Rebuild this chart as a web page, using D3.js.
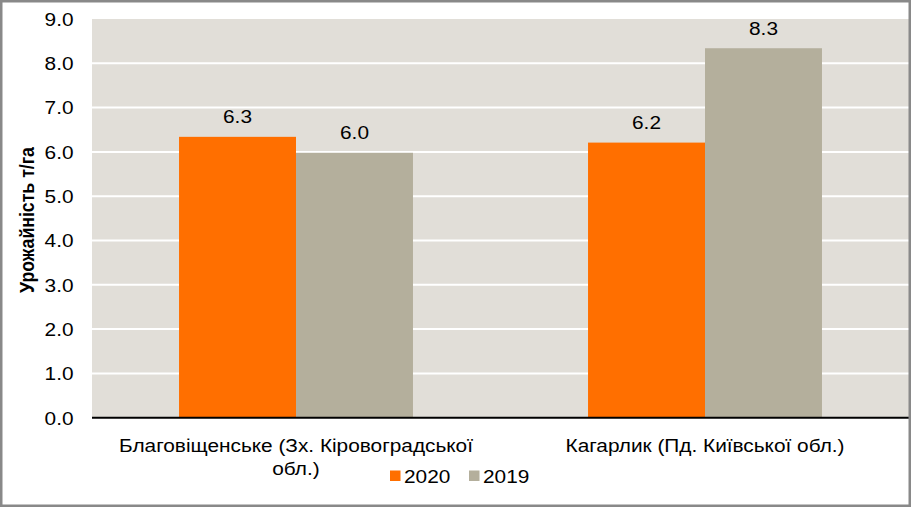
<!DOCTYPE html>
<meta charset="utf-8">
<title>Урожайність</title>
<style>
  body {
    margin: 0;
    background: #fff;
  }

  svg text {
    font-family: "Liberation Sans", Arial, sans-serif;
    fill: #000;
  }
</style>
<svg width="911" height="507"></svg>
<script src="https://cdn.jsdelivr.net/npm/d3@7"></script>
<script>
  // data
  var categories = ["Благовіщенське (Зх. Кіровоградської обл.)", "Кагарлик (Пд. Київської обл.)"];
  var categoryLines = [
    ["Благовіщенське (Зх. Кіровоградської", "обл.)"],
    ["Кагарлик (Пд. Київської обл.)"]
  ];
  var seriesNames = ["2020", "2019"];
  var values2020 = [6.34, 6.21];
  var values2019 = [5.98, 8.34];
  var valueLabels2020 = ["6.3", "6.2"];
  var valueLabels2019 = ["6.0", "8.3"];
  var yTicks = [0, 1, 2, 3, 4, 5, 6, 7, 8, 9];
  var yTitle = "Урожайність т/га";

  var colors = {
    "2020": "#ff6f00",
    "2019": "#b4af9c"
  };

  var svg = d3.select("svg"),
    width = +svg.attr("width"),
    height = +svg.attr("height");

  // the picture is a bit wider than tall fonts, so stretch text sideways
  var sx = 1.19,
    fontSize = 17.5;

  var plot = {
    left: 92,
    right: 909,
    top: 19,
    bottom: 417.7
  };

  var rows = categories.map(function(c, i) {
    return {
      category: c,
      lines: categoryLines[i],
      bars: [{
          key: seriesNames[0],
          value: values2020[i],
          label: valueLabels2020[i]
        },
        {
          key: seriesNames[1],
          value: values2019[i],
          label: valueLabels2019[i]
        }
      ]
    };
  });

  var x0 = d3.scaleBand()
    .domain(categories)
    .range([plot.left - 0.5, plot.right + 0.5])
    .paddingInner(0.428)
    .paddingOuter(0.214);

  var x1 = d3.scaleBand()
    .domain(seriesNames)
    .range([0, x0.bandwidth()]);

  var y = d3.scaleLinear()
    .domain([0, 9])
    .range([plot.bottom, plot.top]);

  // plot background
  svg.append("rect")
    .attr("x", plot.left)
    .attr("y", plot.top)
    .attr("width", plot.right - plot.left)
    .attr("height", plot.bottom - plot.top)
    .attr("fill", "#e1ded8");

  // grid
  svg.append("g")
    .selectAll("line")
    .data(yTicks.slice(1, -1))
    .enter().append("line")
    .attr("x1", plot.left)
    .attr("x2", plot.right)
    .attr("y1", function(d) { return y(d); })
    .attr("y2", function(d) { return y(d); })
    .attr("stroke", "#fff")
    .attr("stroke-width", 2);

  // y axis labels
  var yAxis = svg.append("g")
    .attr("transform", "translate(" + plot.left + ",0)")
    .call(d3.axisLeft(y)
      .tickValues(yTicks)
      .tickFormat(d3.format(".1f"))
      .tickSize(0)
      .tickPadding(16));

  yAxis.select(".domain").remove();
  yAxis.selectAll("text")
    .attr("font-size", fontSize)
    .attr("font-family", null)
    .attr("x", -18.5 / sx)
    .attr("dy", "0.36em")
    .attr("transform", "scale(" + sx + ",1)");

  // bars
  var group = svg.append("g")
    .selectAll("g")
    .data(rows)
    .enter().append("g")
    .attr("transform", function(d) {
      return "translate(" + x0(d.category) + ",0)";
    });

  group.selectAll("rect")
    .data(function(d) { return d.bars; })
    .enter().append("rect")
    .attr("x", function(d) { return x1(d.key); })
    .attr("y", function(d) { return y(d.value); })
    .attr("width", x1.bandwidth())
    .attr("height", function(d) { return y(0) - y(d.value); })
    .attr("fill", function(d) { return colors[d.key]; });

  group.selectAll("text")
    .data(function(d) { return d.bars; })
    .enter().append("text")
    .attr("text-anchor", "middle")
    .attr("font-size", fontSize)
    .attr("transform", function(d) {
      return "translate(" + (x1(d.key) + x1.bandwidth() / 2) + "," + (y(d.value) - 13.5) + ") scale(" + sx + ",1)";
    })
    .text(function(d) { return d.label; });

  // baseline
  svg.append("line")
    .attr("x1", plot.left)
    .attr("x2", plot.right)
    .attr("y1", y(0))
    .attr("y2", y(0))
    .attr("stroke", "#000")
    .attr("stroke-width", 2);

  // category labels
  svg.append("g")
    .selectAll("text")
    .data(rows)
    .enter().append("text")
    .attr("text-anchor", "middle")
    .attr("font-size", fontSize)
    .attr("transform", function(d) {
      return "translate(" + (x0(d.category) + x0.bandwidth() / 2) + ",452) scale(" + sx + ",1)";
    })
    .selectAll("tspan")
    .data(function(d) { return d.lines; })
    .enter().append("tspan")
    .attr("x", 0)
    .attr("dy", function(d, i) { return i ? 23 : 0; })
    .text(function(d) { return d; });

  // y title
  svg.append("text")
    .attr("text-anchor", "middle")
    .attr("font-size", 17.7)
    .attr("font-weight", "bold")
    .attr("transform", "translate(33.5,220) rotate(-90) scale(1," + sx + ")")
    .text(yTitle);

  // legend
  var legend = svg.append("g")
    .selectAll("g")
    .data(seriesNames)
    .enter().append("g")
    .attr("transform", function(d, i) {
      return "translate(" + (390 + i * 79) + ",0)";
    });

  legend.append("rect")
    .attr("y", 470.5)
    .attr("width", 10.5)
    .attr("height", 10.5)
    .attr("fill", function(d) { return colors[d]; });

  legend.append("text")
    .attr("font-size", fontSize)
    .attr("transform", "translate(14,482.5) scale(" + sx + ",1)")
    .text(function(d) { return d; });

  // outer frame
  svg.append("rect")
    .attr("x", 1.25)
    .attr("y", 1.25)
    .attr("width", width - 2.5)
    .attr("height", height - 2.5)
    .attr("fill", "none")
    .attr("stroke", "#898989")
    .attr("stroke-width", 2.5);
</script>
